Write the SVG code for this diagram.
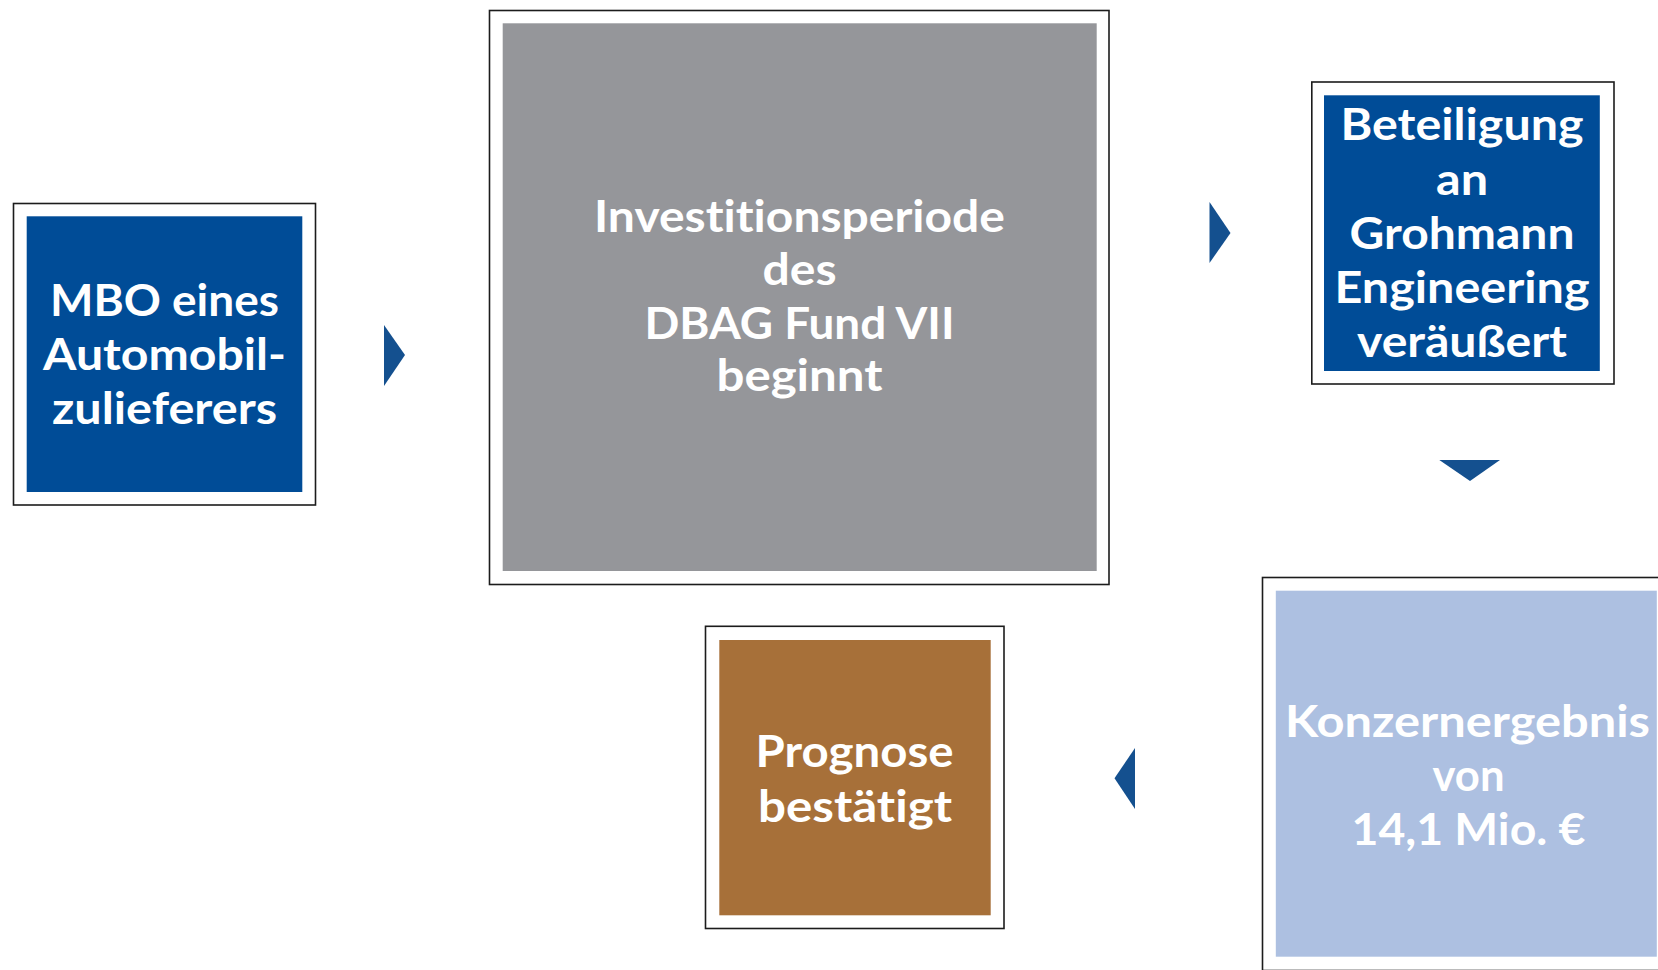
<svg xmlns="http://www.w3.org/2000/svg" width="1658" height="970" viewBox="0 0 1658 970">
  <style>
    .frame { fill: #ffffff; stroke: #1c1c1c; stroke-width: 1.6; }
    .blue { fill: #004c97; }
    .grey { fill: #95969a; }
    .brown { fill: #a77039; }
    .light { fill: #adc0e1; }
    .label { font-family: Lato, "Open Sans", "Liberation Sans", sans-serif; font-weight: bold; font-size: 43px; fill: #ffffff; text-anchor: middle; font-variant-ligatures: none; font-feature-settings: "liga" 0, "dlig" 0; }
    .arrow { fill: #14508f; }
  </style>
  <rect width="1658" height="970" fill="#ffffff"/>

  <!-- step 1 -->
  <g id="node-mbo">
    <rect class="frame" x="13.5" y="203.5" width="302" height="301.5"/>
    <rect class="blue" x="26.7" y="216.3" width="275.6" height="275.7"/>
    <text class="label" x="164.5" y="316" textLength="229" lengthAdjust="spacingAndGlyphs">MBO eines</text>
    <text class="label" x="164.5" y="370" textLength="243" lengthAdjust="spacingAndGlyphs">Automobil-</text>
    <text class="label" x="164.5" y="424" textLength="225" lengthAdjust="spacingAndGlyphs">zulieferers</text>
  </g>

  <!-- step 2 -->
  <g id="node-fund">
    <rect class="frame" x="489.5" y="10.5" width="619.5" height="574"/>
    <rect class="grey" x="502.7" y="23.3" width="594" height="547.7"/>
    <text class="label" x="799.5" y="232" textLength="411" lengthAdjust="spacingAndGlyphs">Investitionsperiode</text>
    <text class="label" x="799.5" y="285" textLength="74" lengthAdjust="spacingAndGlyphs">des</text>
    <text class="label" x="799.5" y="338.5" textLength="310" lengthAdjust="spacingAndGlyphs">DBAG Fund VII</text>
    <text class="label" x="799.5" y="391" textLength="166" lengthAdjust="spacingAndGlyphs">beginnt</text>
  </g>

  <!-- step 3 -->
  <g id="node-grohmann">
    <rect class="frame" x="1311.8" y="82" width="302.2" height="302"/>
    <rect class="blue" x="1324" y="95.3" width="275.8" height="275.7"/>
    <text class="label" x="1462" y="140" textLength="243" lengthAdjust="spacingAndGlyphs">Beteiligung</text>
    <text class="label" x="1462" y="195" textLength="52" lengthAdjust="spacingAndGlyphs">an</text>
    <text class="label" x="1462" y="249" textLength="225" lengthAdjust="spacingAndGlyphs">Grohmann</text>
    <text class="label" x="1462" y="303.3" textLength="255" lengthAdjust="spacingAndGlyphs">Engineering</text>
    <text class="label" x="1462" y="357.3" textLength="210" lengthAdjust="spacingAndGlyphs">veräußert</text>
  </g>

  <!-- step 4 -->
  <g id="node-ergebnis">
    <rect class="frame" x="1262.5" y="577.5" width="420" height="393"/>
    <rect class="light" x="1275.8" y="590.7" width="381" height="366"/>
    <text class="label" x="1467.5" y="736.7" textLength="365" lengthAdjust="spacingAndGlyphs">Konzernergebnis</text>
    <text class="label" x="1468.5" y="791" textLength="72" lengthAdjust="spacingAndGlyphs">von</text>
    <text class="label" x="1468.5" y="845" textLength="234" lengthAdjust="spacingAndGlyphs">14,1 Mio. €</text>
  </g>

  <!-- step 5 -->
  <g id="node-prognose">
    <rect class="frame" x="705.5" y="626.3" width="298.5" height="302.2"/>
    <rect class="brown" x="719.3" y="640" width="271.4" height="275.3"/>
    <text class="label" x="854.5" y="766.7" textLength="198" lengthAdjust="spacingAndGlyphs">Prognose</text>
    <text class="label" x="855" y="821.7" textLength="194" lengthAdjust="spacingAndGlyphs">bestätigt</text>
  </g>

  <!-- flow arrows between the steps -->
  <g id="connectors">
    <polygon class="arrow" points="384,325 405,355 384,386"/>
    <polygon class="arrow" points="1209.5,202 1230.5,233 1209.5,263"/>
    <polygon class="arrow" points="1439.3,460 1500,460 1470,481"/>
    <polygon class="arrow" points="1135,748 1114.5,778.3 1135,809"/>
  </g>
</svg>
